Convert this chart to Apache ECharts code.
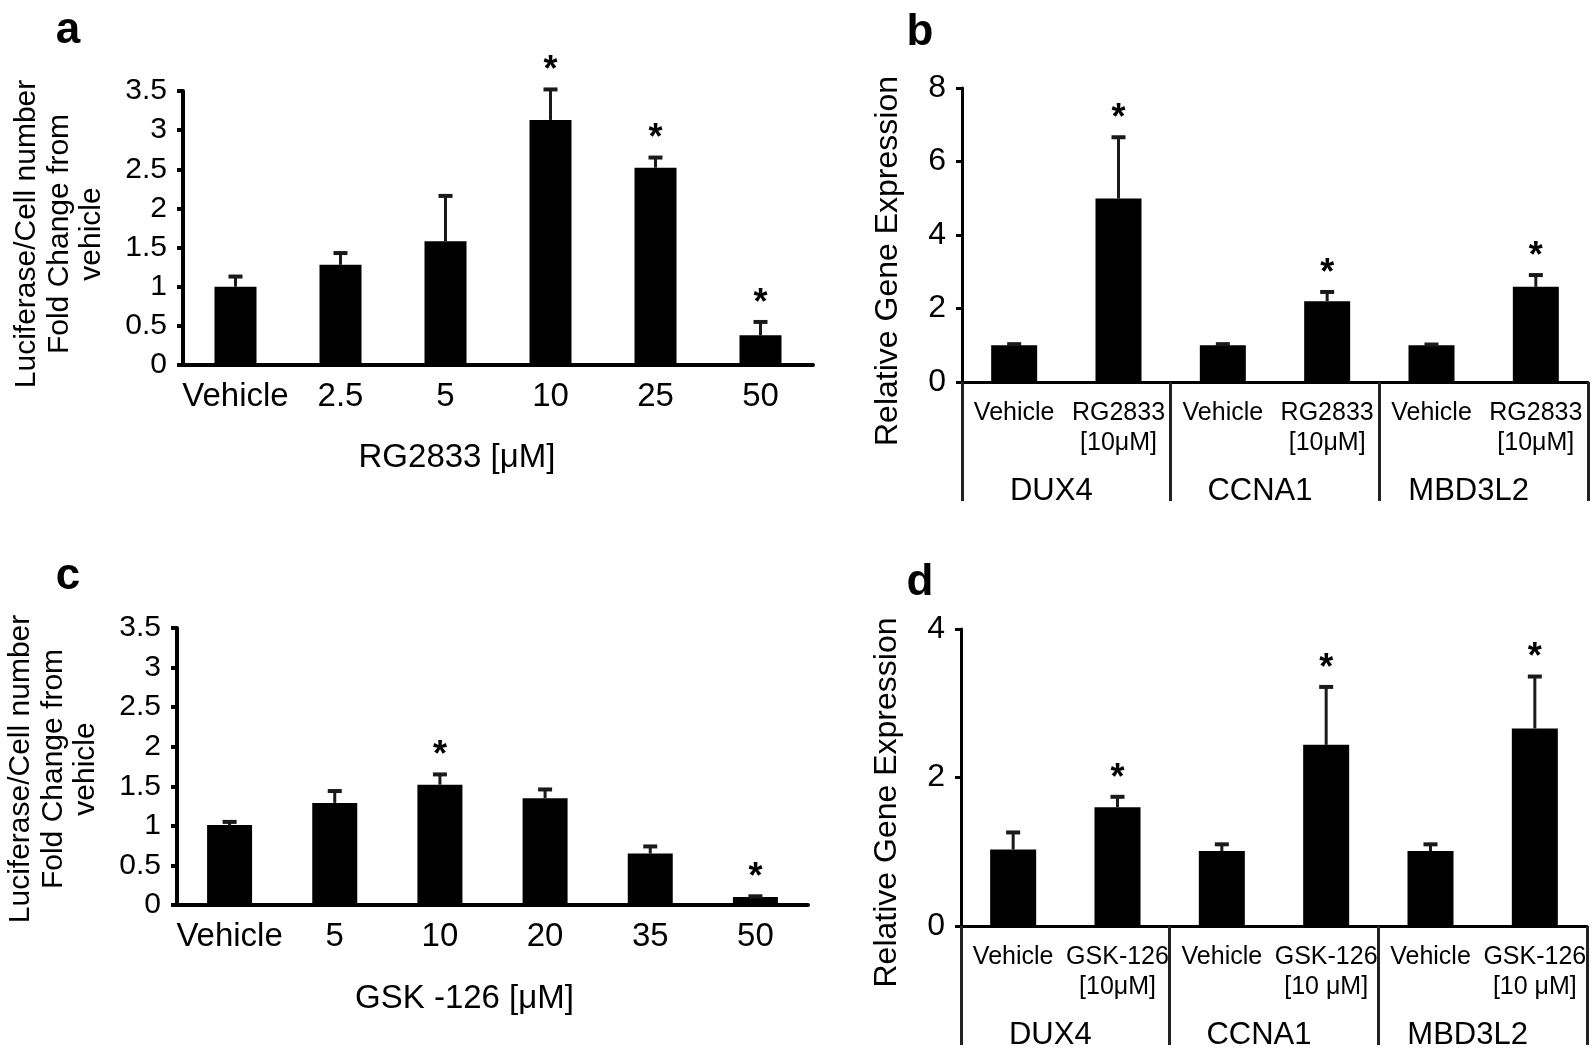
<!DOCTYPE html>
<html>
<head>
<meta charset="utf-8">
<script src="https://cdn.jsdelivr.net/npm/echarts@6/dist/echarts.min.js"></script>
<style>
html,body{margin:0;padding:0;background:#fff;}
#chart{width:1594px;height:1057px;}
</style>
</head>
<body>
<div id="chart"></div>
<script>
// ---- Panel a: RG2833 luciferase ----
const catA = ['Vehicle', '2.5', '5', '10', '25', '50'];
const meanA = [1.00, 1.28, 1.58, 3.13, 2.52, 0.38];
const semA = [0.13, 0.15, 0.58, 0.39, 0.13, 0.17];
const sigA = [0, 0, 0, 1, 1, 1];

// ---- Panel b: RG2833 gene expression ----
const genes = ['DUX4', 'CCNA1', 'MBD3L2'];
const catB = ['Vehicle', 'RG2833\n[10μM]', 'Vehicle', 'RG2833\n[10μM]', 'Vehicle', 'RG2833\n[10μM]'];
const meanB = [1.00, 4.99, 1.00, 2.20, 1.00, 2.59];
const semB = [0.03, 1.67, 0.03, 0.25, 0.02, 0.32];
const sigB = [0, 1, 0, 1, 0, 1];

// ---- Panel c: GSK-126 luciferase ----
const catC = ['Vehicle', '5', '10', '20', '35', '50'];
const meanC = [1.01, 1.29, 1.52, 1.35, 0.65, 0.10];
const semC = [0.04, 0.15, 0.13, 0.11, 0.09, 0.01];
const sigC = [0, 0, 1, 0, 0, 1];

// ---- Panel d: GSK-126 gene expression ----
const catD = ['Vehicle', 'GSK-126\n[10μM]', 'Vehicle', 'GSK-126\n[10 μM]', 'Vehicle', 'GSK-126\n[10 μM]'];
const meanD = [1.03, 1.60, 1.01, 2.44, 1.01, 2.66];
const semD = [0.23, 0.14, 0.09, 0.78, 0.09, 0.70];
const sigD = [0, 1, 0, 1, 0, 1];

const FONT = "'Liberation Sans', Arial, sans-serif";
const chart = echarts.init(document.getElementById('chart'), null, {renderer: 'canvas'});

function errData(mean, sem, sig) {
  return mean.map((m, i) => [i, m, sem[i], sig[i]]);
}
function renderErr(params, api) {
  const i = api.value(0), m = api.value(1), s = api.value(2), sig = api.value(3);
  const p0 = api.coord([i, m]);
  const p1 = api.coord([i, m + s]);
  const cap = 7;
  const children = [
    {type: 'line', shape: {x1: p0[0], y1: p0[1], x2: p1[0], y2: p1[1]}, style: {stroke: '#1a1a1a', lineWidth: 3}},
    {type: 'line', shape: {x1: p1[0] - cap, y1: p1[1], x2: p1[0] + cap, y2: p1[1]}, style: {stroke: '#1a1a1a', lineWidth: 4}}
  ];
  if (sig) {
    children.push({type: 'text', x: p1[0], y: p1[1] - 18,
      style: {text: '*', font: 'bold 36px ' + FONT, textAlign: 'center', textVerticalAlign: 'middle', fill: '#000'}});
  }
  return {type: 'group', children: children};
}

function catAxis(grid, data, lw, fs, margin, extra) {
  return Object.assign({
    type: 'category', gridIndex: grid, data: data, boundaryGap: true,
    axisLine: {show: true, lineStyle: {color: '#000', width: lw}},
    axisTick: {show: false},
    axisLabel: {color: '#000', fontSize: fs, fontFamily: FONT, margin: margin, interval: 0},
    splitLine: {show: false}
  }, extra || {});
}
function groupAxis(grid) {
  return {
    type: 'category', gridIndex: grid, data: genes, boundaryGap: true, position: 'bottom',
    axisLine: {show: false},
    axisTick: {show: true, inside: false, length: 119, interval: 0, lineStyle: {color: '#222', width: 3}},
    axisLabel: {color: '#000', fontSize: 31, fontFamily: FONT, margin: 94, interval: 0, padding: [0, 30, 0, 0]},
    splitLine: {show: false}
  };
}
function valAxis(grid, max, interval, lw, fs, name, nameFs, nameGap, namePad, lineHeight) {
  return {
    type: 'value', gridIndex: grid, min: 0, max: max, interval: interval,
    axisLine: {show: true, lineStyle: {color: '#000', width: lw}},
    axisTick: {show: true, inside: false, length: 6, lineStyle: {color: '#000', width: lw}},
    axisLabel: {color: '#000', fontSize: fs, fontFamily: FONT, margin: 16},
    splitLine: {show: false},
    name: name, nameLocation: 'middle', nameRotate: 90, nameGap: nameGap,
    nameTextStyle: {color: '#000', fontSize: nameFs, fontFamily: FONT, lineHeight: lineHeight, padding: namePad, align: 'center'}
  };
}

const option = {
  backgroundColor: '#fff',
  animation: false,
  graphic: [
    {type: 'text', x: 68, y: 31, style: {text: 'a', font: 'bold 44px ' + FONT, textAlign: 'center', textVerticalAlign: 'middle', fill: '#000'}},
    {type: 'text', x: 920, y: 33, style: {text: 'b', font: 'bold 44px ' + FONT, textAlign: 'center', textVerticalAlign: 'middle', fill: '#000'}},
    {type: 'text', x: 68, y: 577, style: {text: 'c', font: 'bold 44px ' + FONT, textAlign: 'center', textVerticalAlign: 'middle', fill: '#000'}},
    {type: 'text', x: 920, y: 583, style: {text: 'd', font: 'bold 44px ' + FONT, textAlign: 'center', textVerticalAlign: 'middle', fill: '#000'}}
  ],
  grid: [
    {left: 183, top: 91, width: 630, height: 274},
    {left: 962, top: 88, width: 626, height: 294},
    {left: 177, top: 628, width: 631, height: 277},
    {left: 961, top: 629, width: 626, height: 297}
  ],
  xAxis: [
    catAxis(0, catA, 4, 33, 15, {name: 'RG2833 [μM]', nameLocation: 'middle', nameGap: 76,
      nameTextStyle: {color: '#000', fontSize: 33, fontFamily: FONT, padding: [0, 82, 0, 0]}}),
    catAxis(1, catB, 3, 25, 16, {axisLabel: {color: '#000', fontSize: 25, lineHeight: 30, fontFamily: FONT, margin: 16, interval: 0}}),
    groupAxis(1),
    catAxis(2, catC, 4, 33, 15, {name: 'GSK -126 [μM]', nameLocation: 'middle', nameGap: 77,
      nameTextStyle: {color: '#000', fontSize: 33, fontFamily: FONT, padding: [0, 56, 0, 0]}}),
    catAxis(3, catD, 3, 25, 16, {axisLabel: {color: '#000', fontSize: 25, lineHeight: 30, fontFamily: FONT, margin: 16, interval: 0}}),
    groupAxis(3)
  ],
  yAxis: [
    valAxis(0, 3.5, 0.5, 4, 30, 'Luciferase/Cell number\nFold Change from\nvehicle', 30, 75, [0, 12, 0, 0], 32.5),
    valAxis(1, 8, 2, 3, 32, 'Relative Gene Expression', 32, 56, [0, 52, 0, 0], 36),
    valAxis(2, 3.5, 0.5, 4, 30, 'Luciferase/Cell number\nFold Change from\nvehicle', 30, 75, [0, 5, 0, 0], 32.5),
    valAxis(3, 4, 2, 3, 32, 'Relative Gene Expression', 32, 56, [0, 50, 0, 0], 36)
  ],
  series: [
    {type: 'bar', xAxisIndex: 0, yAxisIndex: 0, data: meanA, barWidth: 42, itemStyle: {color: '#000'}},
    {type: 'custom', xAxisIndex: 0, yAxisIndex: 0, data: errData(meanA, semA, sigA), renderItem: renderErr, encode: {x: 0, y: 1}, clip: false, z: 5},
    {type: 'bar', xAxisIndex: 1, yAxisIndex: 1, data: meanB, barWidth: 46, itemStyle: {color: '#000'}},
    {type: 'custom', xAxisIndex: 1, yAxisIndex: 1, data: errData(meanB, semB, sigB), renderItem: renderErr, encode: {x: 0, y: 1}, clip: false, z: 5},
    {type: 'bar', xAxisIndex: 3, yAxisIndex: 2, data: meanC, barWidth: 45, itemStyle: {color: '#000'}},
    {type: 'custom', xAxisIndex: 3, yAxisIndex: 2, data: errData(meanC, semC, sigC), renderItem: renderErr, encode: {x: 0, y: 1}, clip: false, z: 5},
    {type: 'bar', xAxisIndex: 4, yAxisIndex: 3, data: meanD, barWidth: 46, itemStyle: {color: '#000'}},
    {type: 'custom', xAxisIndex: 4, yAxisIndex: 3, data: errData(meanD, semD, sigD), renderItem: renderErr, encode: {x: 0, y: 1}, clip: false, z: 5}
  ]
};
chart.setOption(option);
</script>
</body>
</html>
